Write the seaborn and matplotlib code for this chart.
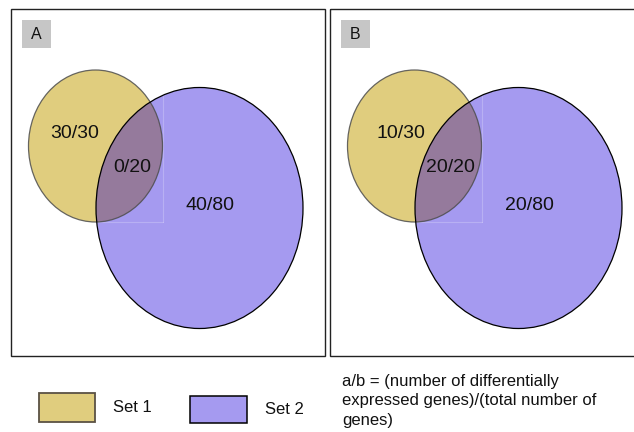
import matplotlib
matplotlib.use("Agg")
import matplotlib.pyplot as plt
from matplotlib.patches import Ellipse, Rectangle
import seaborn as sns

# Differentially expressed / total gene counts per Venn region
panel_labels = ["A", "B"]
set1_only_de = [30, 10]
set1_only_total = [30, 30]
shared_de = [0, 20]
shared_total = [20, 20]
set2_only_de = [40, 20]
set2_only_total = [80, 80]

set_names = ["Set 1", "Set 2"]
key_note = "a/b = (number of differentially\nexpressed genes)/(total number of\ngenes)"

sns.set_theme(style="white")
plt.rcParams["font.family"] = ["Liberation Sans", "DejaVu Sans"]

set1_color = "#e0cd7e"
set2_color = "#a59af0"
overlap_color = "#957a9c"
text_color = "#111111"

fig = plt.figure(figsize=(6.34, 4.32), dpi=100)
ax = fig.add_axes([0, 0, 1, 1])
ax.set_xlim(0, 634)
ax.set_ylim(432, 0)
ax.axis("off")

panel_left = [11, 330]
panel_top = 9
panel_w, panel_h = 314, 347

for i, name in enumerate(panel_labels):
    x0 = panel_left[i]
    ax.add_patch(Rectangle((x0, panel_top), panel_w, panel_h, fill=False,
                           ec="#222222", lw=1.0, zorder=1))
    # panel letter tag
    ax.add_patch(Rectangle((x0 + 11, panel_top + 11), 29, 28, fc="#c6c6c6",
                           ec="none", zorder=2))
    ax.text(x0 + 25.5, panel_top + 25.5, name, ha="center", va="center",
            fontsize=11.5, color=text_color, zorder=3)

    c1 = (x0 + 84.5, 146)
    c2 = (x0 + 188.5, 208)
    e1 = Ellipse(c1, 134, 152, fc=set1_color, ec="none", zorder=2)
    e2 = Ellipse(c2, 207, 241, fc=set2_color, ec="none", zorder=3)
    ax.add_patch(e1)
    ax.add_patch(e2)
    inter = Ellipse(c1, 134, 152, fc=overlap_color, ec="none", zorder=4)
    ax.add_patch(inter)
    inter.set_clip_path(e2)

    # faint rendering seam around the overlap's bounding box
    seam_h, = ax.plot([x0 + 80, x0 + 152], [222, 222], color="white",
                      alpha=0.22, lw=0.8, zorder=4)
    seam_v, = ax.plot([x0 + 152, x0 + 152], [80, 222], color="white",
                      alpha=0.22, lw=0.8, zorder=4)
    seam_h.set_clip_path(e2)
    seam_v.set_clip_path(e2)

    ax.add_patch(Ellipse(c1, 134, 152, fill=False, ec="#4d4d4d", lw=0.9,
                         alpha=0.85, zorder=5))
    ax.add_patch(Ellipse(c2, 207, 241, fill=False, ec="black", lw=0.9,
                         zorder=5))

    fs = 14
    ax.text(x0 + (64 if i == 0 else 71), 133,
            f"{set1_only_de[i]}/{set1_only_total[i]}", ha="center",
            va="center", fontsize=fs, color=text_color, zorder=6)
    ax.text(x0 + (121 if i == 0 else 120), 167,
            f"{shared_de[i]}/{shared_total[i]}", ha="center", va="center",
            fontsize=fs, color=text_color, zorder=6)
    ax.text(x0 + 199, 206, f"{set2_only_de[i]}/{set2_only_total[i]}",
            ha="center", va="center", fontsize=fs, color=text_color, zorder=6)

# key
ax.add_patch(Rectangle((39, 393), 56, 29, fc=set1_color, ec="#5a5244",
                       lw=1.3, zorder=2))
ax.text(113, 408, set_names[0], ha="left", va="center", fontsize=12,
        color=text_color)
ax.add_patch(Rectangle((190, 396), 57, 27, fc=set2_color, ec="black",
                       lw=1.1, zorder=2))
ax.text(265, 409, set_names[1], ha="left", va="center", fontsize=12,
        color=text_color)
ax.text(342, 401, key_note, ha="left", va="center", fontsize=12,
        linespacing=1.38, color=text_color)

fig.savefig("out.png", dpi=100)
